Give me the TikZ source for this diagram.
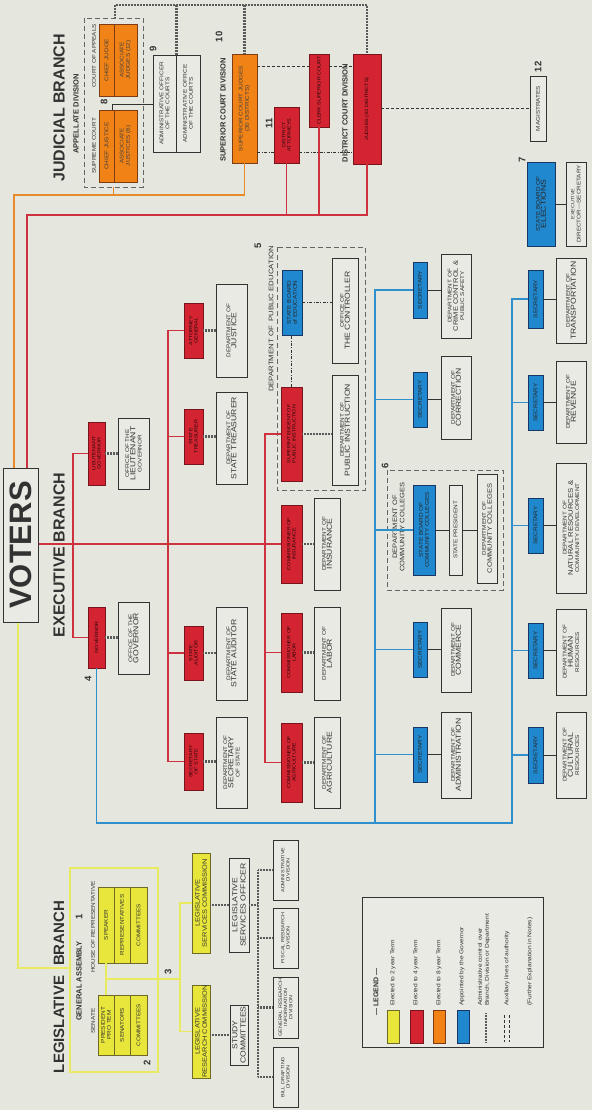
\documentclass[tikz,border=0pt]{standalone}
\usepackage{fontspec}
\setmainfont{Liberation Sans}
\newfontfamily\widesans[FakeStretch=1.18]{Liberation Sans}
\definecolor{paper}{RGB}{229,230,221}
\definecolor{boxfill}{RGB}{233,234,227}
\definecolor{ink}{RGB}{50,50,50}
\definecolor{yelf}{RGB}{232,230,58}
\definecolor{yeld}{RGB}{110,105,40}
\definecolor{yelline}{RGB}{234,234,96}
\definecolor{redf}{RGB}{212,36,50}
\definecolor{redd}{RGB}{120,20,28}
\definecolor{redline}{RGB}{205,50,62}
\definecolor{oraf}{RGB}{240,130,22}
\definecolor{orad}{RGB}{125,60,20}
\definecolor{oraline}{RGB}{232,138,42}
\definecolor{bluf}{RGB}{32,136,206}
\definecolor{blud}{RGB}{25,55,100}
\definecolor{bluline}{RGB}{48,144,204}
\definecolor{hatchc}{RGB}{90,90,90}

\newcommand\sizeXS{\fontsize{4.6}{5.3}\selectfont}
\newcommand\sizeS{\fontsize{5.4}{6.2}\selectfont}
\newcommand\sizeM{\fontsize{7.3}{8.1}\selectfont}
\newcommand\dept[1]{\sizeS DEPARTMENT OF\\\sizeM #1}
% rotated box from its portrait corners: name, style, x1, y1, x2, y2, text
\newcommand\rbox[7]{%
  \pgfmathsetmacro\rbW{#6-#4}%
  \pgfmathsetmacro\rbH{#5-#3}%
  \node[#2, minimum width=\rbW pt, minimum height=\rbH pt] (#1)
    at ({(#3+#5)/2},{(#4+#6)/2}) {#7};}

\tikzset{
  rb/.style={rotate=90, inner sep=0.4pt, align=center, text=ink,
             line width=0.7pt, font=\widesans\sizeS},
  plainbox/.style={rb, draw=ink, fill=boxfill},
  voterbox/.style={rb, draw=ink, line width=1pt, fill=boxfill,
             font=\bfseries\fontsize{31}{31}\selectfont},
  redbox/.style={rb, draw=redd, fill=redf, text=black!70!redd, font=\widesans\sizeXS},
  orabox/.style={rb, draw=orad, fill=oraf, text=black!75},
  yelbox/.style={rb, draw=yeld, fill=yelf},
  blubox/.style={rb, draw=blud, fill=bluf, text=black!85},
  framebox/.style={rb, draw=ink!75, line width=0.6pt, dash pattern=on 5pt off 3pt},
  yelframe/.style={rb, draw=yelline, line width=1.6pt},
  lbl/.style={rotate=90, inner sep=0pt, text=ink, align=center, font=\widesans\sizeS},
  ttl/.style={lbl, font=\bfseries\fontsize{16}{18}\selectfont},
  subttl/.style={lbl, font=\bfseries\fontsize{7.5}{9}\selectfont},
  num/.style={lbl, font=\bfseries\fontsize{9.5}{10}\selectfont},
  legtxt/.style={lbl, anchor=west, align=left, font=\widesans\fontsize{5.6}{7}\selectfont},
  redln/.style={draw=redline, line width=1.8pt},
  oraln/.style={draw=oraline, line width=1.8pt},
  yelln/.style={draw=yelline, line width=1.8pt},
  bluln/.style={draw=bluline, line width=1.8pt},
  hatch/.style={draw=hatchc, line width=2.8pt, dash pattern=on 0.7pt off 0.8pt},
  aux/.style={draw=ink, line width=0.6pt, dash pattern=on 3pt off 2pt},
  auxdd/.style={draw=ink, line width=0.7pt, dash pattern=on 3pt off 1.5pt on 0.8pt off 1.5pt},
  link/.style={draw=ink, line width=0.6pt},
}

\begin{document}
\begin{tikzpicture}[x=1pt,y=-1pt]
\useasboundingbox (0,0) rectangle (592,1110);
\fill[paper] (0,0) rectangle (592,1110);

% ---------------- voters ----------------
\rbox{voters}{voterbox}{3}{468}{38}{622}{VOTERS}

% ---------------- judicial branch ----------------
\node[ttl] (judt) at (59,108) {JUDICIAL BRANCH};
\node[subttl] (appt) at (76,114) {APPELLATE DIVISION};
\rbox{appframe}{framebox}{84}{18}{143}{187}{}
\node[lbl] (sct) at (94,146) {SUPREME COURT};
\node[lbl] (coat) at (94,56) {COURT OF APPEALS};
\rbox{cj}{orabox}{99}{110}{114}{182}{CHIEF JUSTICE}
\rbox{aj}{orabox}{114}{110}{137}{182}{ASSOCIATE\\JUSTICES (6)}
\rbox{cjg}{orabox}{99}{24}{114}{96}{CHIEF JUDGE}
\rbox{ajg}{orabox}{114}{24}{137}{96}{ASSOCIATE\\JUDGES (12)}
\node[num] (n8) at (104,102) {8};
\node[num] (n9) at (153,49) {9};
\rbox{aoff}{plainbox}{153}{55}{176}{152}{ADMINISTRATIVE OFFICER\\OF THE COURTS}
\rbox{aofc}{plainbox}{176}{55}{200}{152}{ADMINISTRATIVE OFFICE\\OF THE COURTS}

\node[subttl] (supt) at (223,110) {SUPERIOR COURT DIVISION};
\node[num] (n10) at (219,37) {10};
\rbox{scj}{orabox}{232}{54}{257}{163}{SUPERIOR COURT JUDGES\\(30 DISTRICTS)}
\rbox{da}{redbox}{274}{107}{299}{163}{DISTRICT\\ATTORNEYS}
\node[num] (n11) at (269,123) {11};
\rbox{csc}{redbox}{309}{54}{329}{127}{CLERK SUPERIOR COURT}
\node[subttl] (dist) at (345,113) {DISTRICT COURT DIVISION};
\rbox{dcj}{redbox}{353}{54}{381}{164}{JUDGES (33 DISTRICTS)}
\rbox{mag}{plainbox}{530}{76}{546}{141}{MAGISTRATES}
\node[num] (n12) at (538,67) {12};

% ---------------- executive branch ----------------
\node[ttl] (exet) at (59,555) {EXECUTIVE BRANCH};
\rbox{ltg}{redbox}{88}{422}{105}{485}{LIEUTENANT\\GOVERNOR}
\rbox{oltg}{plainbox}{118}{418}{149}{489}{\sizeS OFFICE OF THE\\\sizeM LIEUTENANT\\GOVERNOR}
\rbox{gov}{redbox}{88}{607}{105}{668}{GOVERNOR}
\rbox{ogov}{plainbox}{118}{602}{149}{674}{\sizeS OFFICE OF THE\\\sizeM GOVERNOR}
\node[num] (n4) at (88,679) {4};

\rbox{ag}{redbox}{184}{303}{203}{358}{ATTORNEY\\GENERAL}
\rbox{tr}{redbox}{184}{409}{203}{464}{STATE\\TREASURER}
\rbox{aud}{redbox}{184}{626}{203}{680}{STATE\\AUDITOR}
\rbox{sos}{redbox}{184}{733}{203}{790}{SECRETARY\\OF STATE}
\rbox{djus}{plainbox}{216}{284}{247}{377}{\dept{JUSTICE}}
\rbox{dtr}{plainbox}{216}{392}{247}{484}{\dept{STATE TREASURER}}
\rbox{daud}{plainbox}{216}{607}{247}{700}{\dept{STATE AUDITOR}}
\rbox{dsos}{plainbox}{216}{717}{247}{808}{\dept{SECRETARY\\OF STATE}}

\rbox{pedframe}{framebox}{277}{247}{365}{490}{}
\node[lbl, font=\widesans\fontsize{6.6}{7}\selectfont] (pedt) at (271,319) {DEPARTMENT OF\ \ PUBLIC EDUCATION};
\node[num] (n5) at (258,246) {5};
\rbox{sbe}{blubox}{282}{270}{302}{335}{STATE BOARD\\of EDUCATION}
\rbox{ctl}{plainbox}{332}{258}{358}{363}{\sizeS OFFICE OF\\\sizeM THE CONTROLLER}
\rbox{spi}{redbox}{281}{387}{302}{481}{SUPERINTENDENT OF\\PUBLIC INSTRUCTION}
\rbox{dpi}{plainbox}{332}{375}{358}{485}{\dept{PUBLIC INSTRUCTION}}
\rbox{ins}{redbox}{281}{505}{302}{583}{COMMISSIONER OF\\INSURANCE}
\rbox{lab}{redbox}{281}{613}{302}{692}{COMMISSIONER OF\\LABOR}
\rbox{agr}{redbox}{281}{723}{302}{802}{COMMISSIONER OF\\AGRICULTURE}
\rbox{dins}{plainbox}{314}{498}{340}{590}{\dept{INSURANCE}}
\rbox{dlab}{plainbox}{314}{607}{340}{700}{\dept{LABOR}}
\rbox{dagr}{plainbox}{314}{717}{340}{808}{\dept{AGRICULTURE}}

\rbox{seccc}{blubox}{413}{262}{427}{318}{SECRETARY}
\rbox{seccor}{blubox}{413}{372}{427}{427}{SECRETARY}
\rbox{seccom}{blubox}{413}{622}{427}{677}{SECRETARY}
\rbox{secadm}{blubox}{413}{727}{427}{782}{SECRETARY}
\rbox{dcc}{plainbox}{441}{254}{471}{338}{\sizeS DEPARTMENT OF\\\fontsize{6.4}{7.2}\selectfont CRIME CONTROL \&\\PUBLIC SAFETY}
\rbox{dcor}{plainbox}{441}{356}{471}{439}{\dept{CORRECTION}}
\rbox{dcom}{plainbox}{441}{608}{471}{692}{\dept{COMMERCE}}
\rbox{dadm}{plainbox}{441}{712}{471}{798}{\dept{ADMINISTRATION}}

\rbox{ccframe}{framebox}{387}{470}{503}{590}{}
\node[lbl, font=\widesans\fontsize{6.4}{7.4}\selectfont] (cct) at (398.5,527) {DEPARTMENT OF\\COMMUNITY COLLEGES};
\node[num] (n6) at (385,466) {6};
\rbox{sbcc}{blubox}{413}{485}{435}{575}{STATE BOARD OF\\COMMUNITY COLLEGES}
\rbox{spres}{plainbox}{449}{485}{462}{575}{STATE PRESIDENT}
\rbox{ddcc}{plainbox}{477}{474}{497}{583}{\sizeS DEPARTMENT OF\\\fontsize{6.4}{7.2}\selectfont COMMUNITY COLLEGES}

\rbox{sectra}{blubox}{528}{270}{543}{328}{SECRETARY}
\rbox{secrev}{blubox}{528}{375}{543}{430}{SECRETARY}
\rbox{secnat}{blubox}{528}{498}{543}{553}{SECRETARY}
\rbox{sechum}{blubox}{528}{623}{543}{678}{SECRETARY}
\rbox{seccul}{blubox}{528}{727}{543}{783}{SECRETARY}
\rbox{dtra}{plainbox}{556}{258}{586}{343}{\dept{TRANSPORTATION}}
\rbox{drev}{plainbox}{556}{361}{586}{443}{\dept{REVENUE}}
\rbox{dnat}{plainbox}{556}{463}{586}{593}{\sizeS DEPARTMENT OF\\\fontsize{6.6}{7.4}\selectfont NATURAL RESOURCES \&\\COMMUNITY DEVELOPMENT}
\rbox{dhum}{plainbox}{556}{609}{586}{695}{\dept{HUMAN\\RESOURCES}}
\rbox{dcul}{plainbox}{556}{712}{586}{798}{\dept{CULTURAL\\RESOURCES}}

\rbox{sbel}{blubox}{527}{162}{555}{246}{STATE BOARD OF\\\sizeM ELECTIONS}
\rbox{exd}{plainbox}{566}{162}{586}{246}{\sizeXS EXECUTIVE\\DIRECTOR---SECRETARY}
\node[num] (n7) at (522,160) {7};

% ---------------- legislative branch ----------------
\node[ttl, font=\bfseries\fontsize{15}{18}\selectfont] (legt) at (59,987) {LEGISLATIVE\hspace{10pt}BRANCH};
\rbox{gaframe}{yelframe}{70}{868}{158}{1072}{}
\node[subttl] (gat) at (79,981) {GENERAL ASSEMBLY};
\node[num] (n1) at (79,917) {1};
\node[lbl] (sent) at (93,1021) {SENATE};
\node[lbl] (hort) at (93,927) {HOUSE OF REPRESENTATIVE};
\rbox{ppt}{yelbox}{98}{995}{114}{1055}{PRESIDENT\\PRO TEM}
\rbox{sen}{yelbox}{114}{995}{130}{1055}{SENATORS}
\rbox{scom}{yelbox}{130}{995}{147}{1055}{COMMITTEES}
\rbox{spk}{yelbox}{98}{887}{114}{963}{SPEAKER}
\rbox{rep}{yelbox}{114}{887}{130}{963}{REPRESENTATIVES}
\rbox{hcom}{yelbox}{130}{887}{147}{963}{COMMITTEES}
\node[num] (n2) at (147,1063) {2};
\node[num] (n3) at (168,972) {3};
\rbox{lsc}{yelbox, font=\widesans\fontsize{6.3}{7.2}\selectfont}{192}{853}{210}{953}{LEGISLATIVE\\SERVICES COMMISSION}
\rbox{lrc}{yelbox, font=\widesans\fontsize{6.3}{7.2}\selectfont}{192}{985}{210}{1078}{LEGISLATIVE\\RESEARCH COMMISSION}
\rbox{stc}{plainbox, font=\widesans\sizeM}{230}{1005}{248}{1065}{STUDY\\COMMITTEES}
\rbox{lso}{plainbox, font=\widesans\sizeM}{229}{858}{249}{952}{LEGISLATIVE\\SERVICES OFFICER}
\rbox{adm}{plainbox, font=\widesans\sizeXS}{273}{840}{298}{900}{ADMINISTRATIVE\\DIVISION}
\rbox{fis}{plainbox, font=\widesans\sizeXS}{273}{908}{298}{968}{FISCAL RESEARCH\\DIVISION}
\rbox{gen}{plainbox, font=\widesans\sizeXS}{273}{977}{298}{1038}{GENERAL RESEARCH\\INFORMATION\\DIVISION}
\rbox{bil}{plainbox, font=\widesans\sizeXS}{273}{1047}{298}{1107}{BILL DRAFTING\\DIVISION}

% ---------------- legend ----------------
\rbox{legend}{plainbox, line width=0.9pt}{362}{897}{543}{1047}{}
\node[lbl, font=\bfseries\fontsize{7}{8}\selectfont] (legh) at (376,992) {--- LEGEND ---};
\rbox{sw1}{yelbox}{387}{1010}{399}{1043}{}
\rbox{sw2}{redbox}{410}{1010}{423}{1043}{}
\rbox{sw3}{orabox}{433}{1010}{445}{1043}{}
\rbox{sw4}{blubox}{457}{1010}{469}{1043}{}
\node[legtxt] (lt1) at (393,1006) {Elected to 2 year Term};
\node[legtxt] (lt2) at (416,1006) {Elected to 4 year Term};
\node[legtxt] (lt3) at (439,1006) {Elected to 8 year Term};
\node[legtxt] (lt4) at (462,1006) {Appointed by the Governor};
\node[legtxt] (lt5) at (484,1006) {Administrative control over\\Branch, Division or Department};
\node[legtxt] (lt6) at (507,1006) {Auxiliary lines of authority};
\node[legtxt] (lt7) at (530,1006) {(Further Explanation in Notes)};
\draw[hatch] (486,1013) -- (486,1042);
\draw[aux] (504,1015) -- (504,1042);
\draw[aux] (509,1015) -- (509,1042);

% ---------------- connectors ----------------
% judicial: orange and red lines of election
\draw[oraln] (voters.east -| 14,0) -- (14,195) -| (scj.west);
\draw[oraln] (appframe.west |- 0,195) -- (appframe.west);
\draw[redln] (voters.east -| 27,0) -- (27,215) -| (dcj.west);
\draw[redln] (da.west |- 0,215) -- (da.west);
\draw[redln] (csc.west |- 0,215) -- (csc.west);
% administrative control at the top
\coordinate (hl) at (115,5);
\coordinate (hr) at (dcj.east |- hl);
\draw[hatch] (appframe.east -| hl) -- (hl) -- (hr) -- (dcj.east);
\draw[hatch] (aoff.south east |- hl) -- (aoff.south east);
\draw[hatch] (scj.east |- hl) -- (scj.east);
\draw[link] (cj.east -| 112,0) -- (112,104) -- (aoff.north |- 0,104);
% auxiliary lines among the courts
\draw[aux] (scj.south |- 0,66) -- (csc.north |- 0,66);
\draw[aux] (csc.south |- 0,66) -- (dcj.north |- 0,66);
\draw[auxdd] (scj.south |- 0,152) -- (da.north |- 0,152);
\draw[auxdd] (da.south |- 0,152) -- (dcj.north |- 0,152);
\draw[aux] (dcj.south |- mag.north) -- (mag.north);

% executive: red lines of election
\draw[redln] (voters.south |- ins.north) -- (ins.north);
\draw[redln] (ltg.north) -- (ltg.north -| 73,0) -- (gov.north -| 73,0) -- (gov.north);
\draw[redln] (ag.north) -- (ag.north -| 168,0) -- (sos.north -| 168,0) -- (sos.north);
\draw[redln] (tr.north -| 168,0) -- (tr.north);
\draw[redln] (aud.north -| 168,0) -- (aud.north);
\draw[redln] (spi.north) -- (spi.north -| 265,0) -- (agr.north -| 265,0) -- (agr.north);
\draw[redln] (lab.north -| 265,0) -- (lab.north);
% administrative control to the departments
\draw[hatch] (ltg.south) -- (oltg.north |- ltg.south);
\draw[hatch] (gov.south) -- (ogov.north |- gov.south);
\draw[hatch] (ag.south) -- (djus.north |- ag.south);
\draw[hatch] (tr.south) -- (dtr.north |- tr.south);
\draw[hatch] (aud.south) -- (daud.north |- aud.south);
\draw[hatch] (sos.south) -- (dsos.north |- sos.south);
\draw[hatch] (spi.south) -- (dpi.north |- spi.south);
\draw[hatch] (ins.south) -- (dins.north |- ins.south);
\draw[hatch] (lab.south) -- (dlab.north |- lab.south);
\draw[hatch] (agr.south) -- (dagr.north |- agr.south);
\draw[auxdd] (spi.east) -- (spi.east |- sbe.west);
\draw[auxdd] (sbe.south) -- (ctl.north |- sbe.south);

% executive: appointments by the governor
\coordinate (bl) at (375,823);
\coordinate (br) at (512,823);
\draw[bluln] (gov.west) |- (br) -- (br |- sectra.north) -- (sectra.north);
\draw[bluln] (bl) -- (bl |- seccc.north) -- (seccc.north);
\draw[bluln] (bl |- seccor.north) -- (seccor.north);
\draw[bluln] (bl |- sbcc.north) -- (sbcc.north);
\draw[bluln] (bl |- seccom.north) -- (seccom.north);
\draw[bluln] (bl |- secadm.north) -- (secadm.north);
\draw[bluln] (br |- secrev.north) -- (secrev.north);
\draw[bluln] (br |- secnat.north) -- (secnat.north);
\draw[bluln] (br |- sechum.north) -- (sechum.north);
\draw[bluln] (br |- seccul.north) -- (seccul.north);
\draw[link] (seccc.south) -- (dcc.north |- seccc.south);
\draw[link] (seccor.south) -- (dcor.north |- seccor.south);
\draw[link] (seccom.south) -- (dcom.north |- seccom.south);
\draw[link] (secadm.south) -- (dadm.north |- secadm.south);
\draw[link] (sectra.south) -- (dtra.north |- sectra.south);
\draw[link] (secrev.south) -- (drev.north |- secrev.south);
\draw[link] (secnat.south) -- (dnat.north |- secnat.south);
\draw[link] (sechum.south) -- (dhum.north |- sechum.south);
\draw[link] (seccul.south) -- (dcul.north |- seccul.south);
\draw[link] (sbcc.south) -- (spres.north |- sbcc.south);
\draw[link] (spres.south) -- (ddcc.north |- spres.south);
\draw[link] (sbel.south) -- (exd.north);

% legislative: yellow lines of election
\draw[yelln] (voters.west -| 18,0) -- (18,968) -- (gaframe.north |- 0,968);
\coordinate (yj) at (180,979);
\draw[yelln] (spk.west) -- (ppt.east);
\draw[yelln] (spk.west |- yj) -- (yj);
\draw[yelln] (lsc.north) -- (lsc.north -| yj) -- (lrc.north -| yj) -- (lrc.north);
% legislative staff
\draw[hatch] (lrc.south |- stc.north) -- (stc.north);
\draw[hatch] (lsc.south |- lso.north) -- (lso.north);
\coordinate (hv) at (258,0);
\draw[hatch] (lso.south) -- (lso.south -| hv);
\draw[hatch] (adm.north -| hv) -- (bil.north -| hv);
\draw[hatch] (adm.north -| hv) -- (adm.north);
\draw[hatch] (fis.north -| hv) -- (fis.north);
\draw[hatch] (gen.north -| hv) -- (gen.north);
\draw[hatch] (bil.north -| hv) -- (bil.north);
\end{tikzpicture}
\end{document}
